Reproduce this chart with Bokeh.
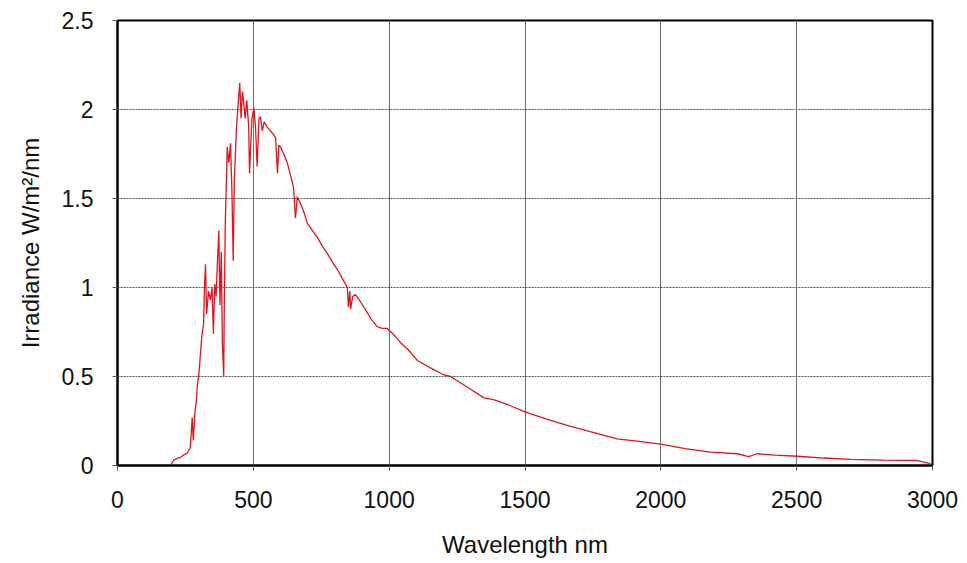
from bokeh.plotting import figure
from bokeh.models import Range1d, FixedTicker
from bokeh.embed import file_html
from bokeh.resources import INLINE

wavelength = [195, 207, 220, 232, 244, 257, 268, 272, 275, 279, 285, 290, 294, 300, 305, 310,
              317, 320, 324, 328, 335, 342, 348, 353, 358, 363, 367, 373, 377, 382, 386, 391,
              393, 397, 401, 404, 410, 416, 421, 426, 430, 434, 438, 445, 450, 455, 460, 464,
              470, 476, 483, 486, 489, 495, 502, 508, 514, 517, 521, 526, 533, 540, 552, 563,
              574, 582, 589, 594, 600, 612, 625, 637, 648, 655, 662, 674, 687, 699, 718, 736,
              755, 773, 792, 810, 828, 846, 850, 855, 858, 866, 876, 894, 915, 935, 956, 975,
              993, 1020, 1042, 1070, 1104, 1150, 1200, 1226, 1288, 1349, 1384, 1440, 1502, 1580,
              1655, 1740, 1840, 1920, 1999, 2090, 2183, 2282, 2323, 2355, 2420, 2503, 2600, 2698,
              2820, 2944, 2993]
irradiance = [0.0, 0.03, 0.04, 0.045, 0.06, 0.07, 0.10, 0.2, 0.27, 0.14, 0.3, 0.36, 0.45, 0.52, 0.62, 0.72,
              0.8, 1.0, 1.13, 0.85, 0.98, 0.93, 1.0, 0.74, 1.02, 0.95, 1.11, 1.32, 0.9, 1.2, 0.69, 0.5,
              0.9, 1.38, 1.6, 1.79, 1.7, 1.81, 1.55, 1.15, 1.6, 1.75, 1.9, 2.05, 2.15, 1.95, 2.1, 2.05,
              1.95, 2.05, 1.9, 1.64, 1.75, 1.95, 2.01, 1.9, 1.68, 1.8, 1.95, 1.96, 1.88, 1.93, 1.9, 1.88,
              1.86, 1.84, 1.64, 1.8, 1.79, 1.75, 1.70, 1.63, 1.56, 1.39, 1.51, 1.47, 1.42, 1.36, 1.32, 1.28,
              1.23, 1.19, 1.14, 1.10, 1.05, 1.0, 0.89, 0.98, 0.88, 0.95, 0.96, 0.92, 0.87, 0.82, 0.78, 0.77,
              0.77, 0.73, 0.69, 0.65, 0.59, 0.55, 0.51, 0.50, 0.44, 0.38, 0.37, 0.34, 0.30, 0.26,
              0.225, 0.19, 0.15, 0.135, 0.12, 0.095, 0.075, 0.066, 0.05, 0.066, 0.058, 0.052, 0.042, 0.034,
              0.03, 0.028, 0.01]

x_ticks = [0, 500, 1000, 1500, 2000, 2500, 3000]
y_ticks = [0, 0.5, 1, 1.5, 2, 2.5]

FONT = "Liberation Sans"

p = figure(width=967, height=563, output_backend="svg", toolbar_location=None,
           x_range=Range1d(0, 3000), y_range=Range1d(0, 2.5),
           min_border_left=117, min_border_right=35, min_border_top=20, min_border_bottom=98,
           background_fill_color="white", border_fill_color="white")

p.line(wavelength, irradiance, line_color="#e0141c", line_width=1.3)

p.outline_line_color = "black"
p.outline_line_width = 2

p.xaxis.ticker = FixedTicker(ticks=x_ticks)
p.yaxis.ticker = FixedTicker(ticks=y_ticks)
p.yaxis.major_label_overrides = {0: "0", 0.5: "0.5", 1: "1", 1.5: "1.5", 2: "2", 2.5: "2.5"}

for ax in (p.xaxis, p.yaxis):
    ax.axis_line_color = "black"
    ax.axis_line_width = 2
    ax.major_tick_out = 5
    ax.major_tick_in = 0
    ax.major_tick_line_color = "#555555"
    ax.minor_tick_line_color = None
    ax.major_label_text_font = FONT
    ax.major_label_text_font_size = "23px"
    ax.major_label_text_color = "#111111"
    ax.axis_label_text_font = FONT
    ax.axis_label_text_font_size = "24px"
    ax.axis_label_text_font_style = "normal"
    ax.axis_label_text_color = "#111111"

p.xaxis.axis_label = "Wavelength nm"
p.yaxis.axis_label = "Irradiance W/m²/nm"
p.xaxis.major_label_standoff = 20
p.xaxis.axis_label_standoff = 20
p.yaxis.major_label_standoff = 19
p.yaxis.axis_label_standoff = 15

p.xgrid.grid_line_color = "#6e6e6e"
p.xgrid.grid_line_width = 1
p.ygrid.grid_line_color = "#555555"
p.ygrid.grid_line_width = 1
p.ygrid.grid_line_dash = "2 1"

open("out.html", "w").write(file_html(p, INLINE))
